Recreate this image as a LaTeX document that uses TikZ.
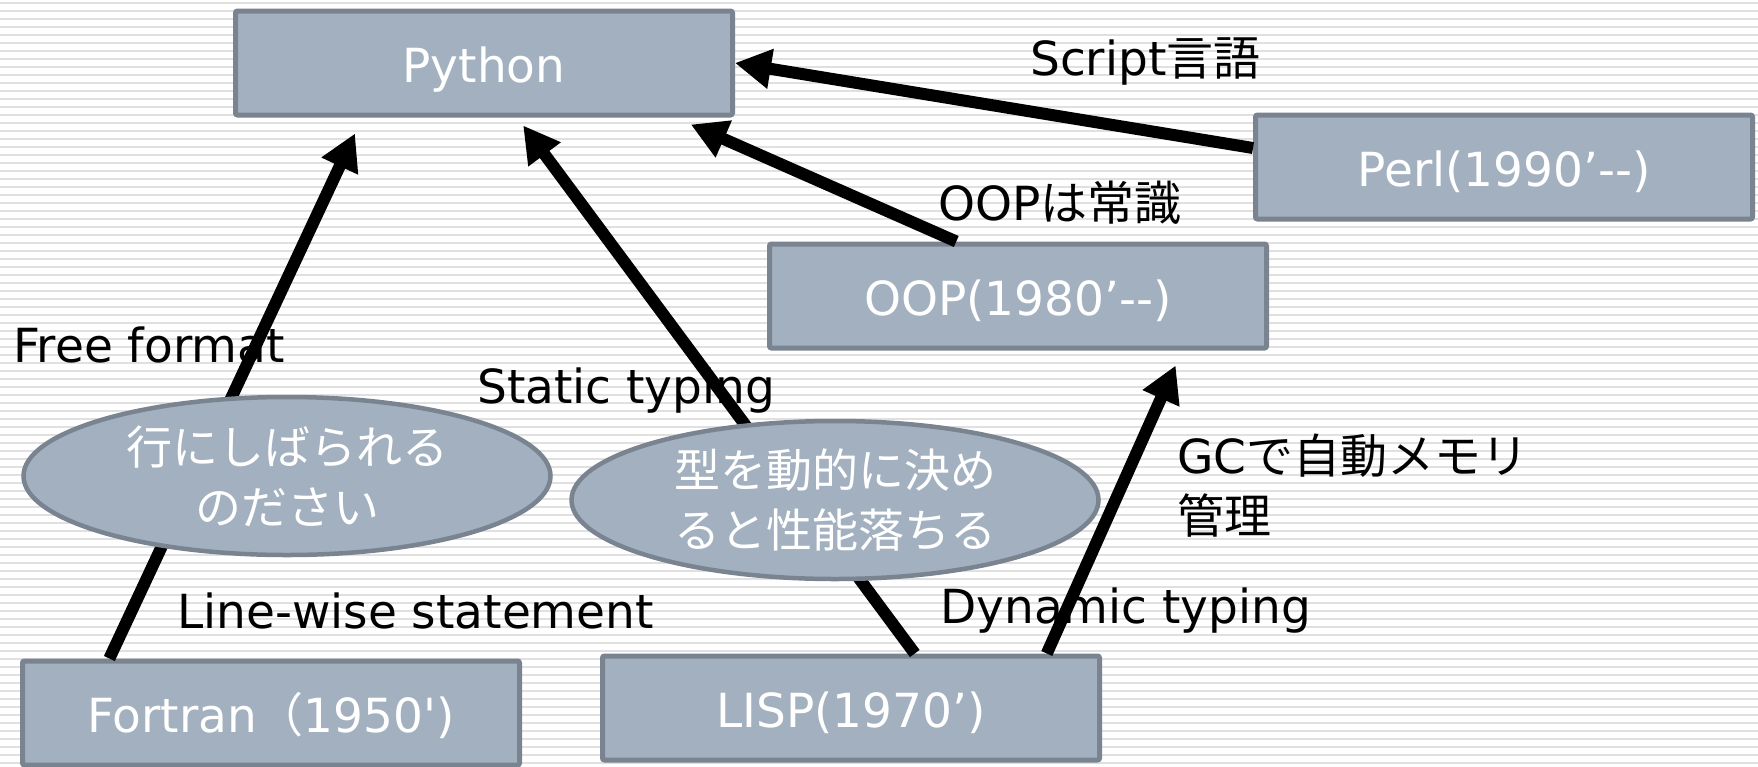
\documentclass[tikz,border=0pt]{standalone}
\usepackage{fontspec}
\setmainfont[Ligatures=TeXOff]{DejaVu Sans}
\newfontfamily\jp{Noto Sans CJK JP}
\usetikzlibrary{arrows.meta,shapes.geometric,calc}

\definecolor{boxfill}{RGB}{162,176,191}
\definecolor{boxline}{RGB}{121,132,144}
\definecolor{stripe}{RGB}{224,224,224}

\tikzset{
  lang/.style={draw=boxline, line width=5pt, fill=boxfill, rounded corners=2pt,
    minimum width=497pt, minimum height=104pt, inner sep=0pt, text=white,
    text height=45pt, text depth=6pt, font=\fontsize{47}{56}\selectfont},
  note/.style={ellipse, draw=boxline, line width=4.5pt, fill=boxfill,
    minimum width=527pt, minimum height=158pt, inner sep=0pt, text=white,
    align=center, font=\jp\fontsize{46}{60}\selectfont},
  lbl/.style={anchor=base west, inner sep=0pt, font=\fontsize{47}{60}\selectfont},
  link/.style={line width=12pt, -{Triangle[length=36pt,width=38pt]}},
}

\begin{document}
\begin{tikzpicture}[x=1pt,y=-1pt]
\useasboundingbox (0,0) rectangle (1758,766);
\clip (0,0) rectangle (1758,766);
\fill[white] (0,0) rectangle (1758,766);
\foreach \y in {3,11,...,763}
\draw[stripe, line width=2.5pt] (0,\y) -- (1758,\y);

% languages
\node[lang] (python) at (484,63) {Python};
\node[lang] (perl) at (1504,167) {Perl(1990’--)};
\node[lang] (oop) at (1018,296) {OOP(1980’--)};
\node[lang] (fortran) at (271,713) {Fortran{\jp （}1950')};
\node[lang] (lisp) at (851,708) {LISP(1970’)};

% arrow labels
\node[lbl] (script) at (1030,75) {Script{\jp 言語}};
\node[lbl] (common) at (938,220) {OOP{\jp は常識}};
\node[lbl] (free) at (13,362) {Free format};
\node[lbl] (static) at (477,403) {Static typing};
\node[lbl] (linewise) at (177,628) {Line-wise statement};
\node[lbl] (dynamic) at (940,623) {Dynamic typing};
\node[lbl, anchor=north west, align=left] (gc) at (1177,434)
  {GC{\jp で自動メモリ}\\{\jp 管理}};

\draw[link] ($(fortran.north west)!.178!(fortran.north east)$)
  -- ($(python.south west)!.243!(python.south east)+(0,16)$);
\draw[link] ($(lisp.north west)!.627!(lisp.north east)$)
  -- ($(python.south west)!.578!(python.south east)+(0,8)$);
\draw[link] ($(oop.north west)!.377!(oop.north east)$)
  -- ($(python.south west)!.912!(python.south east)+(0,7)$);
\draw[link] ($(perl.west)+(0,-19)$) -- (python.east);

% remarks
\node[note] (bound) at (287,476) {行にしばられる\\のださい};
\node[note] (perf) at (835,500) {型を動的に決め\\ると性能落ちる};

\draw[link] ($(lisp.north west)!.89!(lisp.north east)$)
  -- ($(oop.south west)!.814!(oop.south east)+(0,15)$);
\end{tikzpicture}
\end{document}
